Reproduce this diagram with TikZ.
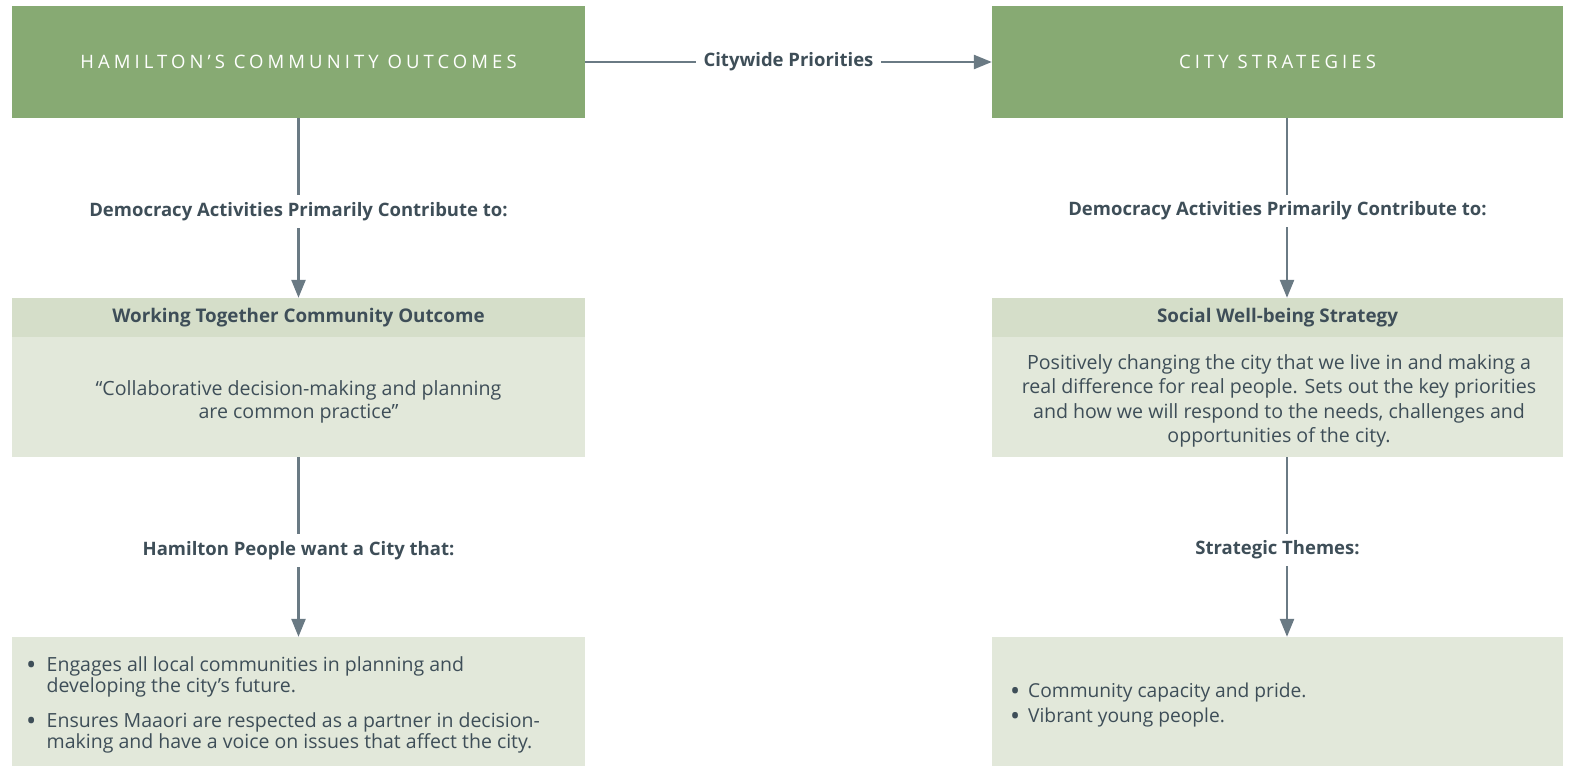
\documentclass[tikz,border=0pt]{standalone}
\usepackage{fontspec}
\setmainfont{Open Sans}
\usetikzlibrary{arrows.meta}
\definecolor{topgreen}{RGB}{135,170,115}
\definecolor{headgreen}{RGB}{213,222,201}
\definecolor{bodygreen}{RGB}{226,232,218}
\definecolor{txt}{RGB}{62,78,88}
\definecolor{arr}{RGB}{106,122,132}
\newcommand\mybul[1]{\llap{\makebox[#1][c]{\raisebox{-3.5pt}{\scalebox{1.4}{\textbullet}}}}}
\begin{document}
\begin{tikzpicture}[x=1pt,y=-1pt,
  topbox/.style={fill=topgreen,draw=none,minimum height=112pt,inner sep=0pt,text=white,
     font=\fontsize{18.5}{22}\selectfont\addfontfeatures{LetterSpace=22}},
  headbox/.style={fill=headgreen,draw=none,minimum height=39pt,inner sep=0pt,text=txt,
     font=\fontsize{18.8}{22}\selectfont\bfseries},
  bodybox/.style={fill=bodygreen,draw=none,inner sep=0pt},
  bodytxt/.style={text=txt,align=center,inner sep=0pt,font=\fontsize{19.6}{23.5}\selectfont},
  conn/.style={draw=arr,line width=2.5pt,-{Triangle[length=18pt,width=14pt]}},
  lbl/.style={fill=white,text=txt,inner xsep=8pt,inner ysep=7pt,
     font=\fontsize{18.5}{22}\selectfont\bfseries},
  itemtxt/.style={text=txt,align=left,inner sep=0pt,font=\fontsize{19.5}{21}\selectfont}
]
\useasboundingbox (0,0) rectangle (1573,766);

% top boxes
\node[topbox,minimum width=573pt] (hco) at (298.5,62) {HAMILTON'S COMMUNITY OUTCOMES};
\node[topbox,minimum width=571pt] (cs) at (1277.5,62) {CITY STRATEGIES};

% left column
\node[headbox,minimum width=573pt] (wth) at (298.5,317.5) {Working Together Community Outcome};
\node[bodybox,minimum width=573pt,minimum height=120pt] (wtb) at (298.5,397) {};
\node[bodytxt] (wtt) at (298.5,402)
  {``Collaborative decision-making and planning\\ are common practice''};
\node[bodybox,minimum width=573pt,minimum height=129pt] (lb) at (298.5,701.5) {};

% right column
\node[headbox,minimum width=571pt] (swh) at (1277.5,317.5) {Social Well-being Strategy};
\node[bodybox,minimum width=571pt,minimum height=120pt] (swb) at (1277.5,397) {};
\node[bodytxt,font=\fontsize{19.6}{24.2}\selectfont] (swt) at (1279,401)
  {Positively changing the city that we live in and making a\\
   real difference for real people. Sets out the key priorities\\
   and how we will respond to the needs, challenges and\\
   opportunities of the city.};
\node[bodybox,minimum width=571pt,minimum height=129pt] (rb) at (1277.5,701.5) {};

% connectors
\draw[conn] (hco.east) -- node[lbl] (cp) {Citywide Priorities} (cs.west);
\draw[conn] (hco.south) -- node[lbl,pos=0.52] (dl) {Democracy Activities Primarily Contribute to:} (wth.north);
\draw[conn] (wtb.south) -- node[lbl,pos=0.52] (hp) {Hamilton People want a City that:} (lb.north);
\draw[conn] ([xshift=9.5pt]cs.south) -- ([xshift=9.5pt]swh.north);
\node[lbl] (dr) at (1277.5,211) {Democracy Activities Primarily Contribute to:};
\draw[conn] ([xshift=9.5pt]swb.south) -- ([xshift=9.5pt]rb.north);
\node[lbl] (st) at (1277.5,550) {Strategic Themes:};

% bullet lists
\node[itemtxt,anchor=base west] (li) at (46.5,748)
  {\mybul{31pt}Engages all local communities in planning and\\
   developing the city's future.\\[14pt]
   \mybul{31pt}Ensures Maaori are respected as a partner in decision-\\
   making and have a voice on issues that affect the city.};
\node[itemtxt,anchor=base west,font=\fontsize{19.2}{21}\selectfont] (ri) at (1028,722)
  {\mybul{26pt}Community capacity and pride.\\[4pt]
   \mybul{26pt}Vibrant young people.};
\end{tikzpicture}
\end{document}
